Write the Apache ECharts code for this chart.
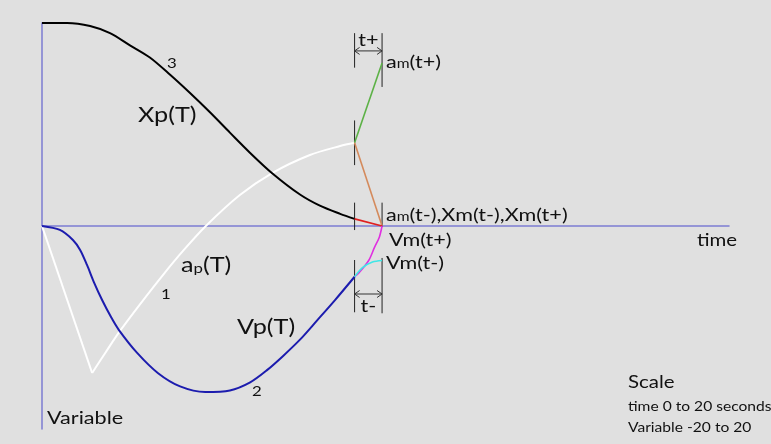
<!DOCTYPE html>
<html>
<head>
<meta charset="utf-8">
<script src="https://cdn.jsdelivr.net/npm/echarts@6/dist/echarts.min.js"></script>
<style>
  html, body { margin: 0; padding: 0; background: #e0e0e0; }
  #chart { width: 771px; height: 444px; }
</style>
</head>
<body>
<div id="chart"></div>
<script>
// Scale: time 0 to 20 seconds, variable -20 to 20
const timeRange = [0, 20];
const varRange = [-20, 20];

// Instants just before and after the impulse
const tMinus = 9.1;
const tPlus = 9.9;

// Xp(T) : position
const xpTime = [0, 0.73, 1.40, 1.98, 2.56, 3.14, 3.73, 4.31, 4.89, 5.47, 6.06, 6.70, 7.51, 8.09, 8.68, 9.1];
const xpVal  = [20.0, 20.0, 19.7, 19.0, 17.8, 16.6, 14.9, 13.1, 11.2, 9.2, 7.2, 5.2, 3.1, 2.0, 1.2, 0.7];

// ap(T) : acceleration (sharp minimum at the second sample)
const apTime = [0, 1.46, 1.86, 2.27, 2.88, 3.52, 4.13, 4.77, 5.76, 6.70, 7.80, 8.68, 9.1];
const apVal  = [0, -14.48, -12.41, -10.34, -7.59, -4.83, -2.36, 0, 3.05, 5.22, 7.0, 7.88, 8.2];

// Vp(T) : velocity
const vpTime = [0, 0.52, 0.90, 1.11, 1.31, 1.51, 1.75, 2.01, 2.24, 2.77, 3.38, 4.02, 4.75, 5.47, 6.06, 6.55, 7.02, 7.51, 8.01, 8.53, 9.1];
const vpVal  = [0, -0.39, -1.38, -2.36, -3.84, -5.52, -7.29, -8.97, -10.25, -12.5, -14.5, -15.8, -16.35, -16.2, -15.4, -14.2, -12.8, -11.2, -9.3, -7.3, -5.0];

// Short segments across the interval [t-, t+]
const amPlusTime  = [tMinus, tPlus];  const amPlusVal  = [8.2, 16.06];
const amMinusTime = [tMinus, tPlus];  const amMinusVal = [8.2, 0];
const xmTime      = [tMinus, tPlus];  const xmVal      = [0.7, 0];
const vmPlusTime  = [tMinus, 9.23, 9.51, 9.68, 9.82, tPlus];
const vmPlusVal   = [-5.0, -4.6, -3.4, -2.1, -1.1, 0];
const vmMinusTime = [tMinus, 9.33, 9.62, tPlus];
const vmMinusVal  = [-5.0, -4.1, -3.55, -3.4];

// Thin vertical guides: [time, from, to]
const guides = [
  [tMinus, 19.0, 15.6], [tMinus, 10.4, 6.0], [tMinus, 2.3, -0.4], [tMinus, -3.35, -8.5],
  [tPlus, 19.0, 13.7], [tPlus, 2.3, -0.1], [tPlus, -3.15, -8.6]
];

// Interval brackets: [from, to, level]
const brackets = [[tMinus, tPlus, 17.25], [tMinus, tPlus, -6.7]];
const bracketNames = ['t+', 't-'];

const pairs = (ts, vs) => ts.map((t, i) => [t, vs[i]]);

const FONT = 'Lato, "Open Sans", sans-serif';
const INK = '#111';
const STRETCH = 1.2;   // the lettering is set slightly wide

const lineSeries = (data, color, width, smooth) => ({
  type: 'line', data: data, symbol: 'none',
  smooth: smooth ? 0.3 : false,
  lineStyle: { color: color, width: width }, silent: true, z: 3
});

// acceleration: straight drop to the minimum, then a smooth rise
const apPts = pairs(apTime, apVal);
const apMinIdx = apVal.indexOf(Math.min.apply(null, apVal));

function label(text, x, y, size, extra) {
  return Object.assign({
    type: 'text', x: x, y: y, scaleX: STRETCH, silent: true, z: 10,
    style: { text: text, font: size + 'px ' + FONT, fill: INK, verticalAlign: 'middle', align: 'left' }
  }, extra || {});
}
function subLabel(base, sub, rest, x, y, size, subSize, drop) {
  return {
    type: 'text', x: x, y: y, scaleX: STRETCH, silent: true, z: 10,
    style: {
      text: '{a|' + base + '}{s|' + sub + '}{a|' + rest + '}',
      verticalAlign: 'middle', align: 'left',
      rich: {
        a: { fontSize: size, fontFamily: FONT, fill: INK },
        s: { fontSize: subSize, fontFamily: FONT, fill: INK, padding: [drop, 0, 0, 0] }
      }
    }
  };
}

const chart = echarts.init(document.getElementById('chart'), null, { renderer: 'canvas' });

const option = {
  backgroundColor: '#e0e0e0',
  animation: false,
  grid: { left: 42, right: 42, top: 23, bottom: 15 },
  xAxis: {
    type: 'value', min: timeRange[0], max: timeRange[1],
    axisLine: { onZero: true, lineStyle: { color: '#7c7cd2', width: 1.5 } },
    axisTick: { show: false }, axisLabel: { show: false }, splitLine: { show: false }
  },
  yAxis: {
    type: 'value', min: varRange[0], max: varRange[1],
    axisLine: { show: true, lineStyle: { color: '#7c7cd2', width: 1.5 } },
    axisTick: { show: false }, axisLabel: { show: false }, splitLine: { show: false }
  },
  series: [
    lineSeries(apPts.slice(0, apMinIdx + 1), '#ffffff', 2, false),
    lineSeries(apPts.slice(apMinIdx), '#ffffff', 2, true),
    lineSeries(pairs(xpTime, xpVal), '#000000', 2, true),
    lineSeries(pairs(vpTime, vpVal), '#1c1cae', 2, true),
    lineSeries(pairs(amPlusTime, amPlusVal), '#5cb146', 1.6, false),
    lineSeries(pairs(amMinusTime, amMinusVal), '#d48a5c', 1.6, false),
    lineSeries(pairs(xmTime, xmVal), '#e02020', 1.8, false),
    lineSeries(pairs(vmPlusTime, vmPlusVal), '#e030e0', 1.6, true),
    lineSeries(pairs(vmMinusTime, vmMinusVal), '#40e6e6', 1.6, true),
    {
      type: 'custom', silent: true, z: 2,
      data: guides,
      renderItem: function (params, api) {
        const a = api.coord([api.value(0), api.value(1)]);
        const b = api.coord([api.value(0), api.value(2)]);
        return {
          type: 'line',
          shape: { x1: a[0], y1: a[1], x2: b[0], y2: b[1] },
          style: { stroke: '#222', lineWidth: 1 }
        };
      }
    },
    {
      type: 'custom', silent: true, z: 2,
      data: brackets,
      renderItem: function (params, api) {
        const a = api.coord([api.value(0), api.value(2)]);
        const b = api.coord([api.value(1), api.value(2)]);
        const hl = 5, hw = 3.5;
        const st = { stroke: '#333', lineWidth: 1, fill: null };
        const name = bracketNames[params.dataIndex];
        const above = name === 't+';
        return {
          type: 'group',
          children: [
            { type: 'line', shape: { x1: a[0], y1: a[1], x2: b[0], y2: b[1] }, style: st },
            { type: 'polyline', shape: { points: [[a[0] + hl, a[1] - hw], [a[0], a[1]], [a[0] + hl, a[1] + hw]] }, style: st },
            { type: 'polyline', shape: { points: [[b[0] - hl, b[1] - hw], [b[0], b[1]], [b[0] - hl, b[1] + hw]] }, style: st },
            {
              type: 'text',
              x: (a[0] + b[0]) / 2, y: a[1] + (above ? -11 : 12), scaleX: STRETCH,
              style: {
                text: name, x: 0, y: 0,
                align: 'center', verticalAlign: 'middle',
                font: '18px ' + FONT, fill: INK
              }
            }
          ]
        };
      }
    }
  ],
  graphic: [
    label('Xp(T)', 138, 115, 21),
    subLabel('a', 'p', '(T)', 181, 265, 21, 14, 7),
    label('Vp(T)', 237, 327, 21),
    label('3', 167, 63, 14),
    label('1', 161, 294, 14),
    label('2', 252, 391, 14),
    subLabel('a', 'm', '(t+)', 386, 62, 18, 13, 4),
    subLabel('a', 'm', '(t-),Xm(t-),Xm(t+)', 386, 215, 18, 13, 4),
    label('Vm(t+)', 389, 240, 18),
    label('Vm(t-)', 386, 263, 18),
    label('time', 697, 241, 17),
    label('Variable', 47, 418, 18),
    label('Scale', 628, 383, 17),
    label('time 0 to 20 seconds', 628, 407, 13),
    label('Variable -20 to 20', 628, 428, 13)
  ]
};

chart.setOption(option);
</script>
</body>
</html>
